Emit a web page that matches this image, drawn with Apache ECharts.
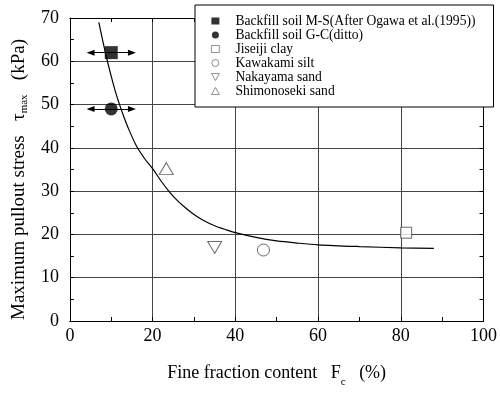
<!DOCTYPE html>
<html>
<head>
<meta charset="utf-8">
<script src="https://cdn.jsdelivr.net/npm/echarts@6/dist/echarts.min.js"></script>
<style>
  html, body { margin: 0; padding: 0; background: #fff; }
  #chart { width: 500px; height: 393px; }
</style>
</head>
<body>
<div id="chart"></div>
<script>
// ---- Data ----
const xTicks = [0, 20, 40, 60, 80, 100];
const yTicks = [0, 10, 20, 30, 40, 50, 60, 70];

const seriesNames = [
  'Backfill soil M-S(After Ogawa et al.(1995))',
  'Backfill soil G-C(ditto)',
  'Jiseiji clay',
  'Kawakami silt',
  'Nakayama sand',
  'Shimonoseki sand'
];
const backfillMS = [[10, 62]];
const backfillGC = [[10, 49]];
const jiseijiClay = [[81.3, 20.4]];
const kawakamiSilt = [[46.8, 16.4]];
const nakayamaSand = [[35, 17]];
const shimonosekiSand = [[23.3, 35.2]];

// horizontal range arrows on the backfill points: [from Fc, to Fc, tau]
const arrowMS = [5, 15, 62];
const arrowGC = [5, 15, 49];

// fitted curve
const fitCurve = [
  [7, 69], [8, 64.5], [9, 60.3], [10, 56.5], [11, 53], [12, 50], [13, 47.3],
  [14, 44.8], [16, 40.6], [18, 37.6], [20, 35.2], [22, 32.4], [24, 29.9],
  [26, 27.8], [28, 26.1], [30, 24.6], [32, 23.4], [35, 22], [38, 21],
  [40, 20.4], [45, 19.3], [50, 18.5], [55, 18], [60, 17.6], [70, 17.2],
  [80, 16.9], [88, 16.8]
];

const FONT = 'Liberation Serif';
const chart = echarts.init(document.getElementById('chart'), null, { renderer: 'canvas' });

function arrowLine(r) {
  return {
    silent: true,
    symbol: ['triangle', 'triangle'],
    symbolSize: [6, 8],
    label: { show: false },
    emphasis: { disabled: true },
    lineStyle: { color: '#000', width: 1, type: 'solid' },
    data: [[{ coord: [r[0], r[2]] }, { coord: [r[1], r[2]] }]]
  };
}

const openStyle = { color: '#fff', borderColor: '#444', borderWidth: 1 };
const legendOpen = { color: '#fff', borderColor: '#555', borderWidth: 0.8 };

const axisCommon = {
  axisLine: { show: true, onZero: false, lineStyle: { color: '#000', width: 1 } },
  axisTick: { show: true, inside: true, length: 4, lineStyle: { color: '#000' } },
  minorTick: { show: true, splitNumber: 2, length: 4, lineStyle: { color: '#000' } },
};

const option = {
  animation: false,
  backgroundColor: '#fff',
  grid: { left: 69, right: 14, top: 18, bottom: 67, containLabel: false },
  legend: {
    orient: 'vertical',
    left: 195,
    top: 5,
    data: [
      { name: seriesNames[0], icon: 'rect', itemStyle: { color: '#000' } },
      { name: seriesNames[1], icon: 'circle', itemStyle: { color: '#000' } },
      { name: seriesNames[2], icon: 'rect', itemStyle: legendOpen },
      { name: seriesNames[3], icon: 'circle', itemStyle: legendOpen },
      { name: seriesNames[4], icon: 'path://M0,0L10,0L5,9Z', itemStyle: legendOpen },
      { name: seriesNames[5], icon: 'path://M5,0L10,9L0,9Z', itemStyle: legendOpen }
    ],
    itemWidth: 8,
    itemHeight: 7,
    itemGap: 0,
    padding: [9, 18, 9, 16],
    backgroundColor: '#fff',
    borderColor: '#000',
    borderWidth: 1,
    borderRadius: 0,
    textStyle: { fontFamily: FONT, fontSize: 13.6, color: '#000', lineHeight: 13, padding: [0, 0, 0, 11] },
    selectedMode: false,
    z: 10
  },
  xAxis: [
    Object.assign({}, axisCommon, {
      type: 'value', position: 'bottom',
      min: xTicks[0], max: xTicks[xTicks.length - 1], interval: 20,
      axisLabel: { fontFamily: FONT, fontSize: 18, color: '#000', margin: 6 },
      splitLine: { show: true, lineStyle: { color: '#444', width: 1 } },
      name: 'Fine fraction content   {m|F}{s|c}   (%)',
      nameLocation: 'middle',
      nameGap: 37,
      nameTextStyle: {
        fontFamily: FONT, fontSize: 18, color: '#000', lineHeight: 30,
        rich: {
          m: { fontFamily: FONT, fontSize: 18, color: '#000', lineHeight: 30 },
          s: { fontFamily: FONT, fontSize: 11, color: '#000', lineHeight: 11, verticalAlign: 'bottom' }
        }
      }
    }),
    Object.assign({}, axisCommon, {
      type: 'value', position: 'top',
      min: xTicks[0], max: xTicks[xTicks.length - 1], interval: 20,
      axisLabel: { show: false },
      splitLine: { show: false }
    })
  ],
  yAxis: [
    Object.assign({}, axisCommon, {
      type: 'value', position: 'left',
      min: yTicks[0], max: yTicks[yTicks.length - 1], interval: 10,
      axisLabel: { fontFamily: FONT, fontSize: 18, color: '#000', margin: 11 },
      splitLine: { show: true, lineStyle: { color: '#444', width: 1 } },
      name: 'Maximum pullout stress   {m|τ}{s|max}   (kPa)',
      nameLocation: 'middle',
      nameRotate: 90,
      nameGap: 34,
      nameTextStyle: {
        fontFamily: FONT, fontSize: 19, color: '#000', lineHeight: 22, padding: [0, 20, 0, 0],
        rich: {
          m: { fontFamily: FONT, fontSize: 19, color: '#000', lineHeight: 22 },
          s: { fontFamily: FONT, fontSize: 11, color: '#000', lineHeight: 10, verticalAlign: 'bottom' }
        }
      }
    }),
    Object.assign({}, axisCommon, {
      type: 'value', position: 'right',
      min: yTicks[0], max: yTicks[yTicks.length - 1], interval: 10,
      axisLabel: { show: false },
      splitLine: { show: false }
    })
  ],
  series: [
    {
      type: 'line', data: fitCurve, smooth: 0.3, showSymbol: false, silent: true,
      lineStyle: { color: '#000', width: 1.2 }, z: 3
    },
    {
      name: seriesNames[0], type: 'scatter', data: backfillMS,
      symbol: 'rect', symbolSize: 13, itemStyle: { color: '#000' },
      markLine: arrowLine(arrowMS), z: 4
    },
    {
      name: seriesNames[1], type: 'scatter', data: backfillGC,
      symbol: 'circle', symbolSize: 13, itemStyle: { color: '#000' },
      markLine: arrowLine(arrowGC), z: 4
    },
    {
      name: seriesNames[2], type: 'scatter', data: jiseijiClay,
      symbol: 'rect', symbolSize: 11, itemStyle: openStyle, z: 4
    },
    {
      name: seriesNames[3], type: 'scatter', data: kawakamiSilt,
      symbol: 'circle', symbolSize: 12, itemStyle: openStyle, z: 4
    },
    {
      name: seriesNames[4], type: 'scatter', data: nakayamaSand,
      symbol: 'triangle', symbolRotate: 180, symbolSize: [14, 12], itemStyle: openStyle, z: 4
    },
    {
      name: seriesNames[5], type: 'scatter', data: shimonosekiSand,
      symbol: 'triangle', symbolSize: [14, 12], itemStyle: openStyle, z: 4
    }
  ]
};
chart.setOption(option);
</script>
</body>
</html>
